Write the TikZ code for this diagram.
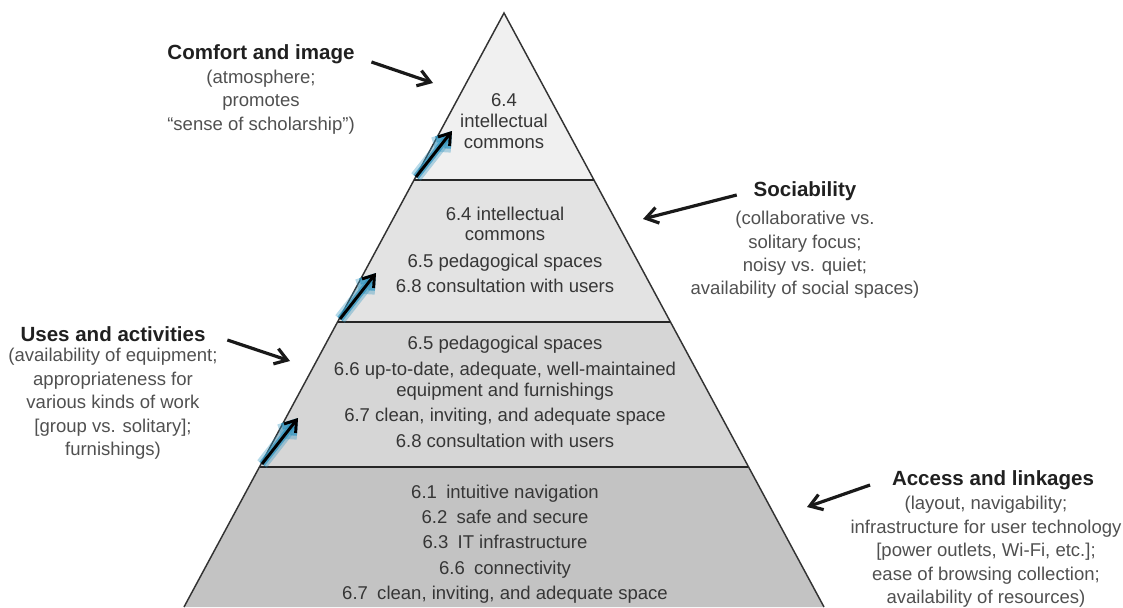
\documentclass[tikz,border=0pt]{standalone}
\usepackage{fontspec}
\setmainfont{Liberation Sans}
\usetikzlibrary{arrows.meta,calc}

\definecolor{tierA}{HTML}{F0F0F0}
\definecolor{tierB}{HTML}{E3E3E3}
\definecolor{tierC}{HTML}{D6D6D6}
\definecolor{tierD}{HTML}{C3C3C3}
\definecolor{bandtext}{HTML}{363636}
\definecolor{notetext}{HTML}{505050}
\definecolor{headtext}{HTML}{202020}
\definecolor{glow}{HTML}{2E94C0}

\begin{document}
\begin{tikzpicture}[x=0.75pt,y=-0.75pt,
  band/.style={align=center, text=bandtext, font=\fontsize{13.9}{18}\selectfont},
  head/.style={text=headtext, inner sep=2pt, font=\fontsize{15.4}{18}\selectfont\bfseries},
  note/.style={align=center, text=notetext, font=\fontsize{13.9}{17.6}\selectfont},
  edge/.style={draw=black!80, line width=1.1pt},
  divider/.style={draw=black!85, line width=2pt},
  pointer/.style={-{Straight Barb[length=9pt,width=12pt]}, line width=2.4pt, black!90},
  climb/.style={-{Straight Barb[length=8pt,width=11pt]}, line width=2.2pt, black,
    preaction={draw=glow, opacity=0.35, line width=9pt},
    preaction={draw=glow, opacity=0.7, line width=5pt}}]

\useasboundingbox (0,0) rectangle (1123,607);

% pyramid corners
\coordinate (apex) at (504,13);
\coordinate (L1) at (414,180); \coordinate (R1) at (594,180);
\coordinate (L2) at (338,322); \coordinate (R2) at (670,322);
\coordinate (L3) at (260,467); \coordinate (R3) at (748,467);
\coordinate (L4) at (184,607); \coordinate (R4) at (824,607);

\fill[tierA] (apex) -- (R1) -- (L1) -- cycle;
\fill[tierB] (L1) -- (R1) -- (R2) -- (L2) -- cycle;
\fill[tierC] (L2) -- (R2) -- (R3) -- (L3) -- cycle;
\fill[tierD] (L3) -- (R3) -- (R4) -- (L4) -- cycle;
\draw[edge] (L4) -- (apex) -- (R4);
\foreach \l/\r in {L1/R1, L2/R2, L3/R3}
  \draw[divider] (\l) -- (\r);

\node[band] (tierA-text) at (504,121) {6.4\\[-2pt]intellectual\\[-2pt]commons};
\node[band] (tierB-text) at (505,250) {6.4 intellectual\\[-3pt]commons\\[2pt]6.5 pedagogical spaces\\[1pt]6.8 consultation with users};
\node[band] (tierC-text) at (505,392) {6.5 pedagogical spaces\\[1pt]6.6 up-to-date, adequate, well-maintained\\[-2pt]equipment and furnishings\\[1pt]6.7 clean, inviting, and adequate space\\[1pt]6.8 consultation with users};
\node[band] (tierD-text) at (505,544) {6.1\enspace intuitive navigation\\[1pt]6.2\enspace safe and secure\\[1pt]6.3\enspace IT infrastructure\\[1pt]6.6\enspace connectivity\\[1pt]6.7\enspace clean, inviting, and adequate space};

% labels round the pyramid
\node[head] (comfort) at (261,54) {Comfort and image};
\node[note] (comfort-sub) at (261,102) {(atmosphere;\\promotes\\“sense of scholarship”)};
\node[head] (social) at (805,191) {Sociability};
\node[note] (social-sub) at (805,255) {(collaborative vs.\\solitary focus;\\noisy vs. quiet;\\availability of social spaces)};
\node[head] (uses) at (113,334) {Uses and activities};
\node[note] (uses-sub) at (113,404) {(availability of equipment;\\appropriateness for\\various kinds of work\\{[group vs. solitary];}\\furnishings)};
\node[head] (access) at (993,480) {Access and linkages};
\node[note] (access-sub) at (986,552) {(layout, navigability;\\infrastructure for user technology\\{[power outlets, Wi-Fi, etc.];}\\ease of browsing collection;\\availability of resources)};

\coordinate (comfort-tip) at (433,83);
\coordinate (social-tip) at (643,219);
\coordinate (uses-tip) at (290,361);
\coordinate (access-tip) at (807,507);

\draw[pointer] ([shift={(14,8)}]comfort.east) -- (comfort-tip);
\draw[pointer] ([shift={(-14,4)}]social.west) -- (social-tip);
\draw[pointer] ([shift={(19,6)}]uses.east) -- (uses-tip);
\draw[pointer] ([shift={(-19,5)}]access.west) -- (access-tip);

\foreach \c in {L1,L2,L3}
  \draw[climb] ([shift={(2,-3)}]\c) -- ++(36,-46);
\end{tikzpicture}
\end{document}
